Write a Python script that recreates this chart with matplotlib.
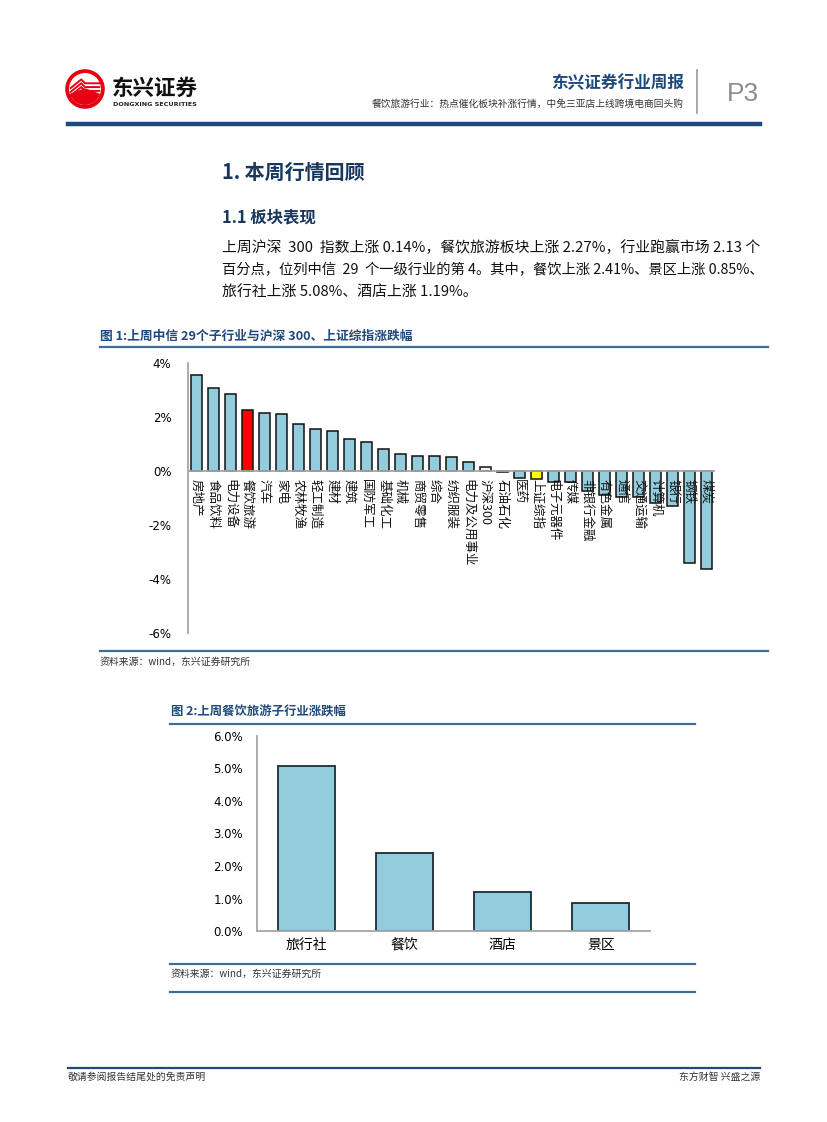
import matplotlib
matplotlib.use("Agg")
import matplotlib.pyplot as plt
from matplotlib.lines import Line2D
from matplotlib.patches import Circle, Wedge
import numpy as np

plt.rcParams['font.family'] = ['Noto Sans CJK SC', 'DejaVu Sans']

# ---------------- data ----------------
categories1 = ['房地产', '食品饮料', '电力设备', '餐饮旅游', '汽车', '家电', '农林牧渔',
               '轻工制造', '建材', '建筑', '国防军工', '基础化工', '机械', '商贸零售',
               '综合', '纺织服装', '电力及公用事业', '沪深300', '石油石化', '医药',
               '上证综指', '电子元器件', '传媒', '非银行金融', '有色金属', '通信',
               '交通运输', '计算机', '银行', '钢铁', '煤炭']
values1 = [3.56, 3.09, 2.86, 2.27, 2.16, 2.12, 1.73, 1.54, 1.47, 1.20, 1.07, 0.80,
           0.62, 0.54, 0.54, 0.51, 0.32, 0.14, -0.03, -0.25, -0.31, -0.41, -0.42,
           -0.74, -0.89, -0.95, -0.98, -1.17, -1.30, -3.42, -3.64]
yticks1 = [4, 2, 0, -2, -4, -6]

categories2 = ['旅行社', '餐饮', '酒店', '景区']
values2 = [5.08, 2.41, 1.19, 0.85]
yticks2 = [0, 1, 2, 3, 4, 5, 6]

W, H = 827, 1122
fig = plt.figure(figsize=(W / 100, H / 100), dpi=100)

def fx(x):
    return x / W

def fy(y):
    return 1 - y / H

def hline(x0, x1, y, color, lw):
    fig.add_artist(Line2D([fx(x0), fx(x1)], [fy(y), fy(y)], color=color, lw=lw,
                          transform=fig.transFigure))

def vline(x, y0, y1, color, lw):
    fig.add_artist(Line2D([fx(x), fx(x)], [fy(y0), fy(y1)], color=color, lw=lw,
                          transform=fig.transFigure))

NAVY = '#1F497D'
DARK = '#17375E'
LINEBLUE = '#3B6E99'
BARBLUE = '#93CDDD'

# ---------------- header ----------------
lax = fig.add_axes([fx(64), fy(110), fx(42), 42 / H])
lax.set_xlim(-1.1, 1.1)
lax.set_ylim(-1.1, 1.1)
lax.set_aspect('equal')
lax.axis('off')
lax.add_patch(Circle((0, 0), 1.0, color='#E60012'))
lax.add_patch(Circle((0, 0), 0.80, color='white'))
lax.add_patch(Wedge((0, 0), 0.80, 200, 340, color='#E60012'))
for k, dy in enumerate([0.05, -0.15, -0.35]):
    lax.plot([-0.75, -0.2, 0.0, 0.75], [dy, dy + 0.45, dy + 0.25, dy + 0.25],
             color='#E60012', lw=1.4)
fig.text(fx(112), fy(88), '东兴证券', fontsize=15.5, fontweight='bold', color='#111111',
         ha='left', va='center')
fig.text(fx(113), fy(104), 'DONGXING SECURITIES', fontsize=4.6, fontweight='bold',
         color='#222222', ha='left', va='center', family='DejaVu Sans')

fig.text(fx(684), fy(83), '东兴证券行业周报', fontsize=12, fontweight='bold',
         color=NAVY, ha='right', va='center')
fig.text(fx(684), fy(104), '餐饮旅游行业：热点催化板块补涨行情，中免三亚店上线跨境电商回头购',
         fontsize=7, color='#333333', ha='right', va='center')
vline(697, 70, 113, '#9A9A9A', 1.2)
fig.text(fx(727), fy(94), 'P3', fontsize=19, color='#8C8C8C', ha='left', va='center',
         family='Liberation Sans')
hline(68, 760, 124, NAVY, 3.2)

# ---------------- text section ----------------
fig.text(fx(222), fy(172), '1. 本周行情回顾', fontsize=14.4, fontweight='bold',
         color=DARK, ha='left', va='center')
fig.text(fx(222), fy(217), '1.1 板块表现', fontsize=11.8, fontweight='bold',
         color=DARK, ha='left', va='center')
para = ['上周沪深  300  指数上涨 0.14%，餐饮旅游板块上涨 2.27%，行业跑赢市场 2.13 个',
        '百分点，位列中信  29  个一级行业的第 4。其中，餐饮上涨 2.41%、景区上涨 0.85%、',
        '旅行社上涨 5.08%、酒店上涨 1.19%。']
para_sizes = [10.7, 10.3, 10.7]
for i, line in enumerate(para):
    fig.text(fx(222), fy(247 + 23 * i), line, fontsize=para_sizes[i], color='#111111',
             ha='left', va='center')

# ---------------- figure 1 ----------------
fig.text(fx(100), fy(336), '图 1:上周中信 29个子行业与沪深 300、上证综指涨跌幅',
         fontsize=9.2, fontweight='bold', color=NAVY, ha='left', va='center')
hline(100, 768, 347, LINEBLUE, 1.6)

ax1 = fig.add_axes([fx(188), fy(633), fx(715) - fx(188), (633 - 363) / H])
x1 = np.arange(len(categories1))
colors1 = []
for c in categories1:
    if c == '餐饮旅游':
        colors1.append('#FF0000')
    elif c == '上证综指':
        colors1.append('#FFFF00')
    elif c == '沪深300':
        colors1.append('#F2F2F2')
    else:
        colors1.append(BARBLUE)
ax1.bar(x1, values1, width=0.6, color=colors1, edgecolor='#111111', linewidth=1.1,
        zorder=2)
ax1.axhline(0, color='#A6A6A6', lw=1.3, zorder=3)
ax1.set_xlim(-0.5, len(categories1) - 0.5)
ax1.set_ylim(-6, 4)
ax1.set_yticks(yticks1)
ax1.set_yticklabels([f'{t}%' for t in yticks1], fontsize=8.5, family='DejaVu Sans')
ax1.tick_params(axis='y', length=0, pad=12)
ax1.set_xticks([])
for s in ['top', 'right', 'bottom']:
    ax1.spines[s].set_visible(False)
ax1.spines['left'].set_color('#A6A6A6')
ax1.spines['left'].set_linewidth(1.3)
for i, c in enumerate(categories1):
    ax1.text(i, -0.3, c, rotation=-90, ha='center', va='top', fontsize=9,
             color='#111111', zorder=5)

fig.text(fx(100), fy(662), '资料来源：wind，东兴证券研究所', fontsize=7.1,
         color='#333333', ha='left', va='center', style='italic')
hline(100, 768, 651, LINEBLUE, 1.6)

# ---------------- figure 2 ----------------
fig.text(fx(171), fy(712), '图 2:上周餐饮旅游子行业涨跌幅', fontsize=8.9,
         fontweight='bold', color=NAVY, ha='left', va='center')
hline(170, 695, 724, LINEBLUE, 1.6)

ax2 = fig.add_axes([fx(257), fy(931), fx(650) - fx(257), (931 - 736) / H])
x2 = np.arange(len(categories2))
ax2.bar(x2, values2, width=0.58, color=BARBLUE, edgecolor='#1C2B36', linewidth=1.3,
        zorder=2)
ax2.set_xlim(-0.5, len(categories2) - 0.5)
ax2.set_ylim(0, 6)
ax2.set_yticks(yticks2)
ax2.set_yticklabels([f'{t:.1f}%' for t in yticks2], fontsize=8.5, family='DejaVu Sans')
ax2.set_xticks(x2)
ax2.set_xticklabels(categories2, fontsize=10)
ax2.tick_params(axis='y', length=0, pad=10)
ax2.tick_params(axis='x', length=0, pad=5)
for s in ['top', 'right']:
    ax2.spines[s].set_visible(False)
for s in ['left', 'bottom']:
    ax2.spines[s].set_color('#A6A6A6')
    ax2.spines[s].set_linewidth(1.3)

hline(170, 695, 964, LINEBLUE, 1.6)
fig.text(fx(171), fy(974), '资料来源：wind，东兴证券研究所', fontsize=7.1,
         color='#333333', ha='left', va='center', style='italic')
hline(170, 695, 992, LINEBLUE, 1.6)

# ---------------- footer ----------------
hline(68, 760, 1068, NAVY, 1.6)
fig.text(fx(68), fy(1077), '敬请参阅报告结尾处的免责声明', fontsize=7.1, color='#333333',
         ha='left', va='center')
fig.text(fx(760), fy(1077), '东方财智 兴盛之源', fontsize=7.1, color='#333333',
         ha='right', va='center')

fig.savefig('out.png', dpi=100, facecolor='white')
